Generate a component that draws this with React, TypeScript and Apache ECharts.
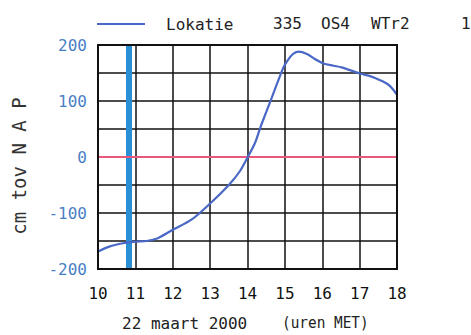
import React, { useEffect, useRef } from "react";
import * as echarts from "echarts";

const hours = [10.0, 10.3, 10.67, 11.0, 11.3, 11.6, 12.0, 12.5, 13.0, 13.5, 13.8, 14.0, 14.2, 14.35, 14.5, 14.66, 14.86, 14.97, 15.05, 15.2, 15.36, 15.59, 15.8, 16.03, 16.3, 16.52, 17.01, 17.3, 17.55, 17.77, 17.9, 18.0];
const levels = [-169, -160, -154, -151, -150, -145, -130, -112, -83, -50, -25, -1, 25, 54, 80, 108, 143, 161, 170, 183, 188, 184, 175, 167, 163, 160, 149, 144, 137, 129, 120, 111];
const markerHour = 10.82;
const yTicks = [-200, -100, 0, 100, 200];
const legendExtra = ["335", "OS4", "WTr2", "1"];
const xTitle = "22 maart 2000";
const xUnit = "(uren MET)";
const yTitle = "cm tov N A P";

const FONT = "'DejaVu Sans Mono', monospace";

export default function App() {
  const ref = useRef<HTMLDivElement>(null);
  useEffect(() => {
    const chart = echarts.init(ref.current!, null, { renderer: "svg" });
    chart.setOption({
      animation: false,
      backgroundColor: "#ffffff",
      grid: { left: 98, top: 45, width: 299, height: 224 },
      legend: {
        left: 92,
        top: 11,
        itemWidth: 48,
        itemHeight: 14,
        data: [{ name: "Lokatie", icon: "path://M0,6 L48,6 L48,8 L0,8 Z" }],
        textStyle: { fontFamily: FONT, fontSize: 16, color: "#222", padding: [0, 0, 0, 16] },
      },
      xAxis: {
        type: "value",
        min: 10,
        max: 18,
        interval: 1,
        axisLine: { show: true, lineStyle: { color: "#111", width: 2 } },
        axisTick: { show: false },
        axisLabel: { fontFamily: FONT, fontSize: 16, color: "#111", margin: 16 },
        splitLine: { show: true, lineStyle: { color: "#111", width: 1.5 } },
      },
      yAxis: {
        type: "value",
        min: -200,
        max: 200,
        interval: 50,
        axisLine: { show: true, lineStyle: { color: "#111", width: 2 } },
        axisTick: { show: false },
        axisLabel: {
          fontFamily: FONT,
          fontSize: 16,
          color: "#4a80c4",
          margin: 11,
          formatter: (v: number) => (yTicks.includes(v) ? String(v) : ""),
        },
        splitLine: { show: true, lineStyle: { color: "#111", width: 1.5 } },
      },
      graphic: [
        { type: "rect", shape: { x: 98, y: 45, width: 299, height: 224 }, style: { fill: "none", stroke: "#111", lineWidth: 2 }, z: 10 },
        { type: "text", x: 273, y: 23, style: { text: legendExtra[0], font: `16px ${FONT}`, fill: "#222", verticalAlign: "middle" } },
        { type: "text", x: 321, y: 23, style: { text: legendExtra[1], font: `16px ${FONT}`, fill: "#222", verticalAlign: "middle" } },
        { type: "text", x: 371, y: 23, style: { text: legendExtra[2], font: `16px ${FONT}`, fill: "#222", verticalAlign: "middle" } },
        { type: "text", x: 461, y: 23, style: { text: legendExtra[3], font: `16px ${FONT}`, fill: "#222", verticalAlign: "middle" } },
        { type: "text", x: 122, y: 323, style: { text: xTitle, font: `16px ${FONT}`, fill: "#222", verticalAlign: "middle" } },
        { type: "text", x: 282, y: 323, scaleX: 0.9, style: { text: xUnit, font: `16px ${FONT}`, fill: "#222", verticalAlign: "middle" } },
        {
          type: "text",
          x: 19,
          y: 166,
          rotation: Math.PI / 2,
          style: { text: yTitle, font: `19px ${FONT}`, fill: "#333", align: "center", verticalAlign: "middle" },
        },
      ],
      series: [
        {
          name: "Lokatie",
          type: "line",
          data: hours.map((h, i) => [h, levels[i]]),
          smooth: 0.3,
          symbol: "none",
          lineStyle: { color: "#4a68c6", width: 2.2 },
          itemStyle: { color: "#4a68c6" },
          z: 5,
          markLine: {
            silent: true,
            symbol: "none",
            label: { show: false },
            data: [
              { xAxis: markerHour, lineStyle: { color: "#2a8fd4", width: 6, type: "solid" } },
              { yAxis: 0, lineStyle: { color: "#e8587c", width: 2, type: "solid" } },
            ],
          },
        },
      ],
    });
    return () => chart.dispose();
  }, []);
  return <div ref={ref} style={{ position: "fixed", left: 0, top: 0, width: 471, height: 335 }} />;
}
